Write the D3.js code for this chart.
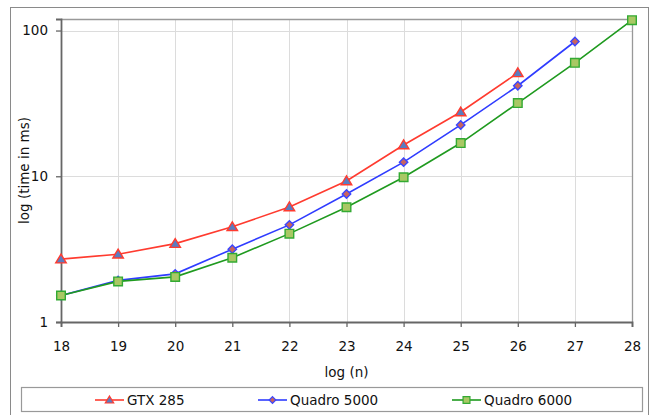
<!DOCTYPE html>
<html>
<head>
<meta charset="utf-8">
<script src="https://cdn.jsdelivr.net/npm/d3@7"></script>
<style>
  html, body { margin: 0; padding: 0; background: #fff; }
  svg { display: block; font-family: "DejaVu Sans", Verdana, sans-serif; }
</style>
</head>
<body>
<svg id="chart" width="654" height="415"></svg>
<script>
// log2 of problem size
const sizes = [18, 19, 20, 21, 22, 23, 24, 25, 26, 27, 28];
const xTicks = [18, 19, 20, 21, 22, 23, 24, 25, 26, 27, 28];
const yTicks = [1, 10, 100];

// run times in ms
const gtx285 = [2.70, 2.92, 3.45, 4.50, 6.16, 9.29, 16.4, 27.6, 51.2];
const quadro5000 = [1.52, 1.93, 2.14, 3.16, 4.64, 7.56, 12.5, 22.5, 41.8, 84.1];
const quadro6000 = [1.52, 1.90, 2.04, 2.76, 4.04, 6.13, 9.85, 16.9, 31.8, 60.0, 117.7];

const seriesNames = ["GTX 285", "Quadro 5000", "Quadro 6000"];

const series = [
  { name: seriesNames[0], values: gtx285, line: "#ff3b2f", stroke: "#ff3b2f", fill: "#5b7cc0", shape: "triangle" },
  { name: seriesNames[1], values: quadro5000, line: "#2f3cff", stroke: "#3a46ff", fill: "#c8645e", shape: "diamond" },
  { name: seriesNames[2], values: quadro6000, line: "#1f9a1f", stroke: "#33aa33", fill: "#a9c864", shape: "square" }
];

const svg = d3.select("#chart");
const plot = { left: 61, right: 632, top: 19, bottom: 322 };

const x = d3.scaleLinear().domain([18, 28]).range([plot.left, plot.right]);
const y = d3.scaleLog().domain([1, 120]).range([plot.bottom, plot.top]);

// outer frame
svg.append("rect")
  .attr("x", 10.5).attr("y", 7.5)
  .attr("width", 638).attr("height", 420)
  .attr("fill", "none").attr("stroke", "#8a8a8a").attr("stroke-width", 1);

// gridlines
const g = svg.append("g");
g.selectAll("line.vg").data(xTicks.slice(1)).enter().append("line")
  .attr("x1", d => Math.round(x(d)) + 0.5).attr("x2", d => Math.round(x(d)) + 0.5)
  .attr("y1", plot.top).attr("y2", plot.bottom)
  .attr("stroke", "#dcdcdc").attr("stroke-width", 1);
g.selectAll("line.hg").data(yTicks.slice(1)).enter().append("line")
  .attr("x1", plot.left).attr("x2", plot.right)
  .attr("y1", d => Math.round(y(d)) + 0.5).attr("y2", d => Math.round(y(d)) + 0.5)
  .attr("stroke", "#dcdcdc").attr("stroke-width", 1);

// top and right edges of the plot area
svg.append("path")
  .attr("d", `M${plot.left},${plot.top + 0.5}H${plot.right + 0.5}V${plot.bottom}`)
  .attr("fill", "none").attr("stroke", "#999").attr("stroke-width", 1.3);

// axes
const xAxis = d3.axisBottom(x).tickValues(xTicks).tickSize(5).tickPadding(14).tickFormat(d3.format("d"));
const yAxis = d3.axisLeft(y).tickValues(yTicks).tickSize(5).tickPadding(8).tickFormat(d3.format("d"));

const gx = svg.append("g").attr("transform", `translate(0,${plot.bottom})`).call(xAxis);
const gy = svg.append("g").attr("transform", `translate(${plot.left},0)`).call(yAxis);
[gx, gy].forEach(a => {
  a.select(".domain").attr("stroke", "#666").attr("stroke-width", 1.8);
  a.selectAll(".tick line").attr("stroke", "#666").attr("stroke-width", 1.3);
  a.selectAll(".tick text").attr("fill", "#111").style("font-size", "13.5px")
    .style("font-family", "'DejaVu Sans', Verdana, sans-serif");
});

// axis titles
svg.append("text")
  .attr("x", (plot.left + plot.right) / 2).attr("y", 377)
  .attr("text-anchor", "middle").attr("fill", "#111").style("font-size", "13.5px")
  .text("log (n)");
svg.append("text")
  .attr("transform", `translate(29,${(plot.top + plot.bottom) / 2}) rotate(-90)`)
  .attr("text-anchor", "middle").attr("fill", "#111").style("font-size", "13.5px")
  .text("log (time in ms)");

// marker shapes
function markerPath(shape, s) {
  if (shape === "triangle") return `M0,${-s}L${s * 1.05},${s * 0.75}L${-s * 1.05},${s * 0.75}Z`;
  if (shape === "diamond") return `M0,${-s}L${s},0L0,${s}L${-s},0Z`;
  return `M${-s},${-s}H${s}V${s}H${-s}Z`;
}
const markerSize = { triangle: 5, diamond: 4.2, square: 4.3 };

const line = d3.line().x((d, i) => x(sizes[i])).y(d => y(d));

const plotG = svg.append("g");
series.forEach(s => {
  plotG.append("path")
    .datum(s.values)
    .attr("d", line)
    .attr("fill", "none")
    .attr("stroke", s.line)
    .attr("stroke-width", 1.6);
});
series.forEach(s => {
  plotG.selectAll(null).data(s.values).enter().append("path")
    .attr("transform", (d, i) => `translate(${x(sizes[i])},${y(d)})`)
    .attr("d", markerPath(s.shape, markerSize[s.shape]))
    .attr("fill", s.fill)
    .attr("stroke", s.stroke)
    .attr("stroke-width", 1.4);
});

// legend
const leg = svg.append("g");
leg.append("rect")
  .attr("x", 21.5).attr("y", 387.5).attr("width", 621).attr("height", 24)
  .attr("fill", "#fff").attr("stroke", "#999").attr("stroke-width", 1.2);
const legX = [95, 258, 452];
series.forEach((s, i) => {
  const lx = legX[i];
  const gi = leg.append("g").attr("transform", `translate(${lx},400)`);
  gi.append("line").attr("x1", 0).attr("x2", 29).attr("y1", 0).attr("y2", 0)
    .attr("stroke", s.line).attr("stroke-width", 1.6);
  gi.append("path").attr("transform", "translate(14.5,0)")
    .attr("d", markerPath(s.shape, markerSize[s.shape] * 0.8))
    .attr("fill", s.fill).attr("stroke", s.stroke).attr("stroke-width", 1.2);
  gi.append("text").attr("x", 32).attr("y", 5)
    .attr("fill", "#111").style("font-size", "13.5px")
    .text(s.name);
});
</script>
</body>
</html>
